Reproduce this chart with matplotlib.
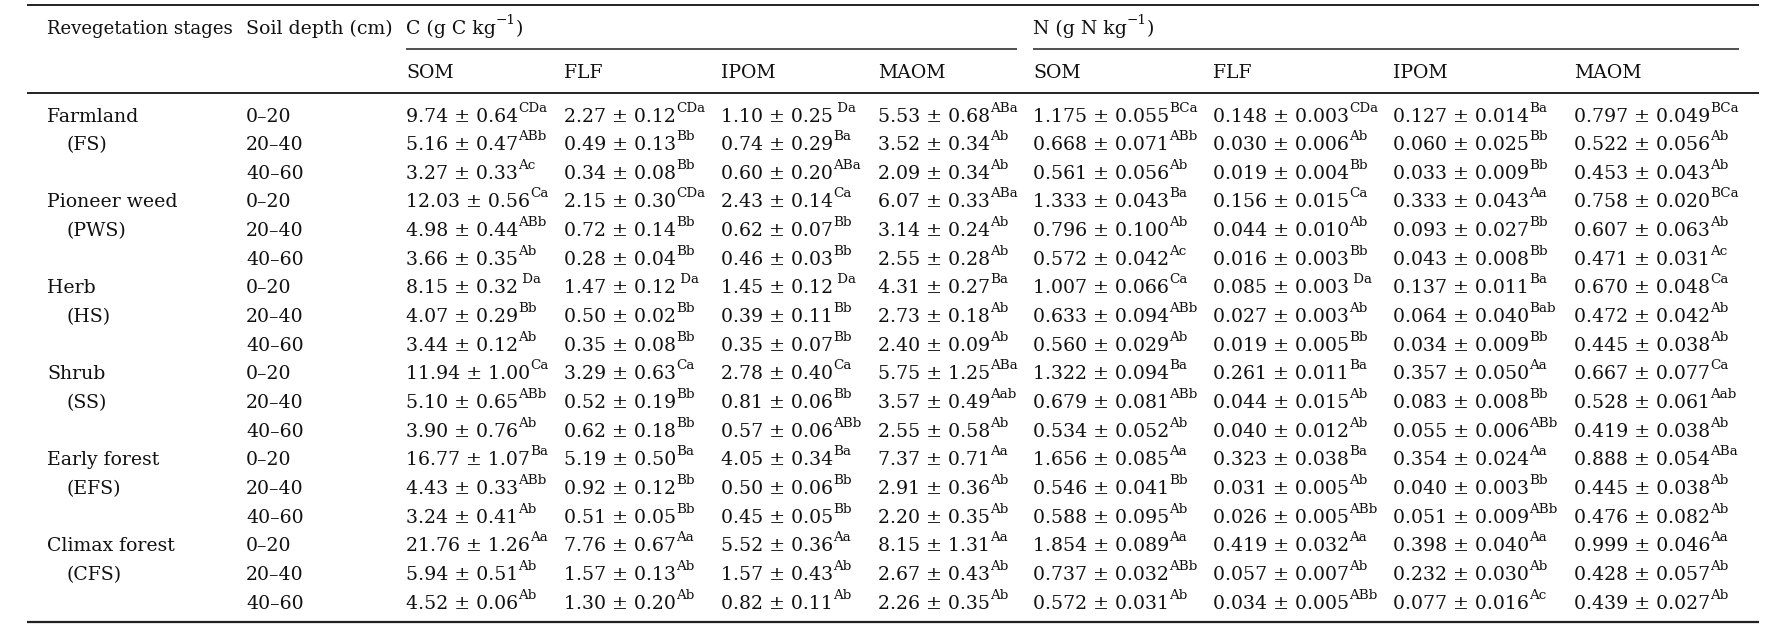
import matplotlib.pyplot as plt

plt.rcParams["font.family"] = ["DejaVu Serif"]

stages = ["Farmland", "Pioneer weed", "Herb", "Shrub", "Early forest", "Climax forest"]
stage_codes = ["(FS)", "(PWS)", "(HS)", "(SS)", "(EFS)", "(CFS)"]
depths = ["0–20", "20–40", "40–60"]
fractions = ["SOM", "FLF", "IPOM", "MAOM"]

# (mean, sd, significance letters) for each row, top to bottom
c_som = [("9.74", "0.64", "CDa"), ("5.16", "0.47", "ABb"), ("3.27", "0.33", "Ac"),
         ("12.03", "0.56", "Ca"), ("4.98", "0.44", "ABb"), ("3.66", "0.35", "Ab"),
         ("8.15", "0.32", " Da"), ("4.07", "0.29", "Bb"), ("3.44", "0.12", "Ab"),
         ("11.94", "1.00", "Ca"), ("5.10", "0.65", "ABb"), ("3.90", "0.76", "Ab"),
         ("16.77", "1.07", "Ba"), ("4.43", "0.33", "ABb"), ("3.24", "0.41", "Ab"),
         ("21.76", "1.26", "Aa"), ("5.94", "0.51", "Ab"), ("4.52", "0.06", "Ab")]
c_flf = [("2.27", "0.12", "CDa"), ("0.49", "0.13", "Bb"), ("0.34", "0.08", "Bb"),
         ("2.15", "0.30", "CDa"), ("0.72", "0.14", "Bb"), ("0.28", "0.04", "Bb"),
         ("1.47", "0.12", " Da"), ("0.50", "0.02", "Bb"), ("0.35", "0.08", "Bb"),
         ("3.29", "0.63", "Ca"), ("0.52", "0.19", "Bb"), ("0.62", "0.18", "Bb"),
         ("5.19", "0.50", "Ba"), ("0.92", "0.12", "Bb"), ("0.51", "0.05", "Bb"),
         ("7.76", "0.67", "Aa"), ("1.57", "0.13", "Ab"), ("1.30", "0.20", "Ab")]
c_ipom = [("1.10", "0.25", " Da"), ("0.74", "0.29", "Ba"), ("0.60", "0.20", "ABa"),
          ("2.43", "0.14", "Ca"), ("0.62", "0.07", "Bb"), ("0.46", "0.03", "Bb"),
          ("1.45", "0.12", " Da"), ("0.39", "0.11", "Bb"), ("0.35", "0.07", "Bb"),
          ("2.78", "0.40", "Ca"), ("0.81", "0.06", "Bb"), ("0.57", "0.06", "ABb"),
          ("4.05", "0.34", "Ba"), ("0.50", "0.06", "Bb"), ("0.45", "0.05", "Bb"),
          ("5.52", "0.36", "Aa"), ("1.57", "0.43", "Ab"), ("0.82", "0.11", "Ab")]
c_maom = [("5.53", "0.68", "ABa"), ("3.52", "0.34", "Ab"), ("2.09", "0.34", "Ab"),
          ("6.07", "0.33", "ABa"), ("3.14", "0.24", "Ab"), ("2.55", "0.28", "Ab"),
          ("4.31", "0.27", "Ba"), ("2.73", "0.18", "Ab"), ("2.40", "0.09", "Ab"),
          ("5.75", "1.25", "ABa"), ("3.57", "0.49", "Aab"), ("2.55", "0.58", "Ab"),
          ("7.37", "0.71", "Aa"), ("2.91", "0.36", "Ab"), ("2.20", "0.35", "Ab"),
          ("8.15", "1.31", "Aa"), ("2.67", "0.43", "Ab"), ("2.26", "0.35", "Ab")]
n_som = [("1.175", "0.055", "BCa"), ("0.668", "0.071", "ABb"), ("0.561", "0.056", "Ab"),
         ("1.333", "0.043", "Ba"), ("0.796", "0.100", "Ab"), ("0.572", "0.042", "Ac"),
         ("1.007", "0.066", "Ca"), ("0.633", "0.094", "ABb"), ("0.560", "0.029", "Ab"),
         ("1.322", "0.094", "Ba"), ("0.679", "0.081", "ABb"), ("0.534", "0.052", "Ab"),
         ("1.656", "0.085", "Aa"), ("0.546", "0.041", "Bb"), ("0.588", "0.095", "Ab"),
         ("1.854", "0.089", "Aa"), ("0.737", "0.032", "ABb"), ("0.572", "0.031", "Ab")]
n_flf = [("0.148", "0.003", "CDa"), ("0.030", "0.006", "Ab"), ("0.019", "0.004", "Bb"),
         ("0.156", "0.015", "Ca"), ("0.044", "0.010", "Ab"), ("0.016", "0.003", "Bb"),
         ("0.085", "0.003", " Da"), ("0.027", "0.003", "Ab"), ("0.019", "0.005", "Bb"),
         ("0.261", "0.011", "Ba"), ("0.044", "0.015", "Ab"), ("0.040", "0.012", "Ab"),
         ("0.323", "0.038", "Ba"), ("0.031", "0.005", "Ab"), ("0.026", "0.005", "ABb"),
         ("0.419", "0.032", "Aa"), ("0.057", "0.007", "Ab"), ("0.034", "0.005", "ABb")]
n_ipom = [("0.127", "0.014", "Ba"), ("0.060", "0.025", "Bb"), ("0.033", "0.009", "Bb"),
          ("0.333", "0.043", "Aa"), ("0.093", "0.027", "Bb"), ("0.043", "0.008", "Bb"),
          ("0.137", "0.011", "Ba"), ("0.064", "0.040", "Bab"), ("0.034", "0.009", "Bb"),
          ("0.357", "0.050", "Aa"), ("0.083", "0.008", "Bb"), ("0.055", "0.006", "ABb"),
          ("0.354", "0.024", "Aa"), ("0.040", "0.003", "Bb"), ("0.051", "0.009", "ABb"),
          ("0.398", "0.040", "Aa"), ("0.232", "0.030", "Ab"), ("0.077", "0.016", "Ac")]
n_maom = [("0.797", "0.049", "BCa"), ("0.522", "0.056", "Ab"), ("0.453", "0.043", "Ab"),
          ("0.758", "0.020", "BCa"), ("0.607", "0.063", "Ab"), ("0.471", "0.031", "Ac"),
          ("0.670", "0.048", "Ca"), ("0.472", "0.042", "Ab"), ("0.445", "0.038", "Ab"),
          ("0.667", "0.077", "Ca"), ("0.528", "0.061", "Aab"), ("0.419", "0.038", "Ab"),
          ("0.888", "0.054", "ABa"), ("0.445", "0.038", "Ab"), ("0.476", "0.082", "Ab"),
          ("0.999", "0.046", "Aa"), ("0.428", "0.057", "Ab"), ("0.439", "0.027", "Ab")]

columns = [c_som, c_flf, c_ipom, c_maom, n_som, n_flf, n_ipom, n_maom]

# layout in pixels
W, H = 1776, 629
col_x = [406, 564, 721, 878, 1033, 1213, 1393, 1574]
stage_x, code_x, depth_x = 47, 66, 246
row0, row_step = 121.5, 28.65
main_fs, sup_fs, sup_rise = 13.6, 9.7, 10

fig = plt.figure(figsize=(W / 100, H / 100), dpi=100)
ax = fig.add_axes([0, 0, 1, 1])
ax.set_xlim(0, W)
ax.set_ylim(H, 0)
ax.axis("off")
renderer = fig.canvas.get_renderer()


def put(x, y, parts, size=None):
    # parts: (text, is_superscript)
    for s, sup in parts:
        t = ax.text(x, y - (sup_rise if sup else 0), s,
                    fontsize=sup_fs if sup else (size or main_fs),
                    va="baseline", ha="left", color="#111111")
        x += t.get_window_extent(renderer).width


# rules
ax.plot([27, 1759], [5, 5], color="#222222", lw=1.4, solid_capstyle="butt")
ax.plot([27, 1759], [93, 93], color="#222222", lw=1.4, solid_capstyle="butt")
ax.plot([27, 1759], [622, 622], color="#222222", lw=1.6, solid_capstyle="butt")
ax.plot([406, 1017], [49, 49], color="#222222", lw=1.1, solid_capstyle="butt")
ax.plot([1033, 1739], [49, 49], color="#222222", lw=1.1, solid_capstyle="butt")

# headers
put(stage_x, 34, [("Revegetation stages", False)], size=13.1)
put(depth_x, 34, [("Soil depth (cm)", False)])
put(col_x[0], 34, [("C (g C kg", False), ("−1", True), (")", False)])
put(col_x[4], 34, [("N (g N kg", False), ("−1", True), (")", False)])
for i, name in enumerate(fractions * 2):
    put(col_x[i], 77.5, [(name, False)])

# body
for r in range(len(stages) * len(depths)):
    y = row0 + r * row_step
    g, d = divmod(r, len(depths))
    if d == 0:
        put(stage_x, y, [(stages[g], False)])
    elif d == 1:
        put(code_x, y, [(stage_codes[g], False)])
    put(depth_x, y, [(depths[d], False)])
    for cx, col in zip(col_x, columns):
        m, s, letters = col[r]
        put(cx, y, [(f"{m} ± {s}", False), (letters, True)])

fig.savefig("out.png", dpi=100)
